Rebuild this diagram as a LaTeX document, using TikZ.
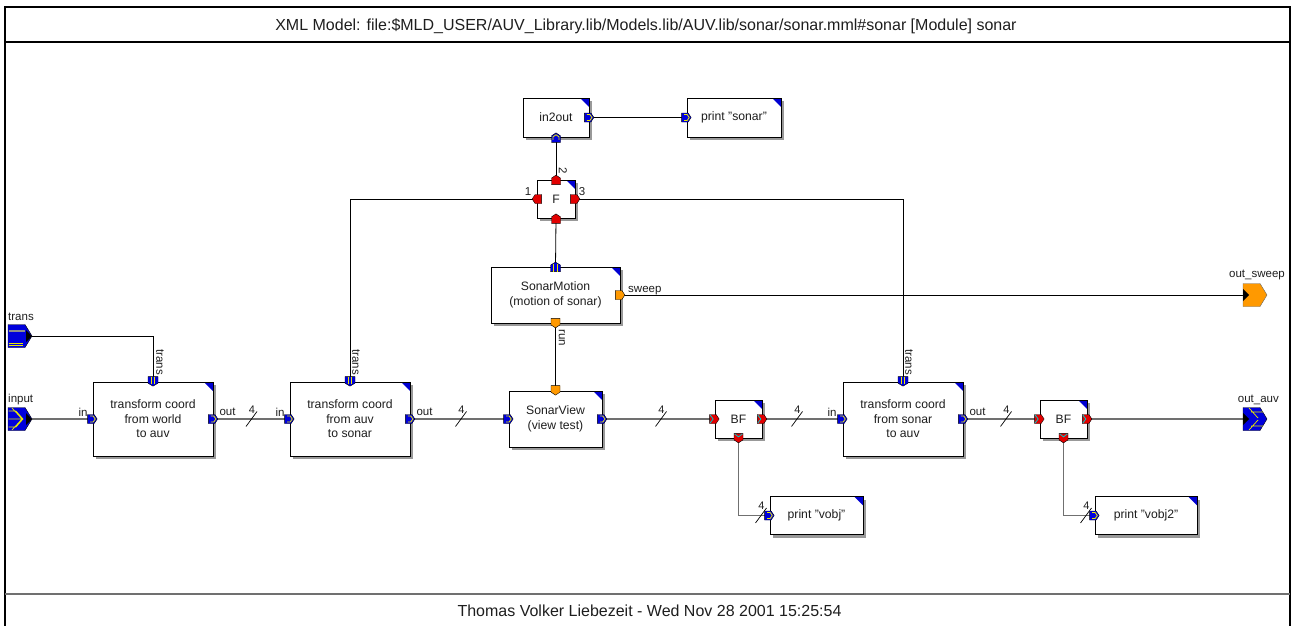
\documentclass[tikz,border=0pt]{standalone}
\usepackage{fontspec}
\setmainfont{Liberation Sans}
\usetikzlibrary{shadows}
\definecolor{portblue}{RGB}{0,0,220}
\definecolor{cornerblue}{RGB}{0,0,210}
\definecolor{portred}{RGB}{225,0,0}
\definecolor{portorange}{RGB}{255,153,0}
\definecolor{portyellow}{RGB}{235,235,0}
\definecolor{portcyan}{RGB}{0,200,200}
\definecolor{linegray}{RGB}{112,112,112}
\definecolor{inkgray}{RGB}{30,30,30}

\tikzset{
  block/.style={draw=black, line width=0.7pt, fill=white, align=center, inner sep=0pt,
    text=inkgray, font=\fontsize{12.2}{14.5}\selectfont,
    drop shadow={shadow xshift=3pt, shadow yshift=-3pt, fill=black!40, opacity=1},
    path picture={\fill[cornerblue] ([xshift=-9pt]path picture bounding box.north east)
      -- (path picture bounding box.north east) -- ([yshift=-9pt]path picture bounding box.north east) -- cycle;}},
  sig/.style={draw=black, line width=0.8pt},
  vec/.style={draw=linegray, line width=1.6pt},
  lbl/.style={inner sep=0pt, text=inkgray, font=\fontsize{11.5}{12}\selectfont},
  portedge/.style={draw=black, line width=0.4pt},
  % small port shapes, drawn pointing to +x
  pics/bport/.style={code={
    \filldraw[portedge, fill=portblue] (-5,-4.5) -- (1.5,-4.5) -- (4.5,0) -- (1.5,4.5) -- (-5,4.5) -- cycle;
    \draw[portyellow, line width=0.8pt] (-2.5,-3) -- (0.5,-3) -- (2.6,0) -- (0.5,3) -- (-2.5,3);}},
  pics/bstripe/.style={code={
    \filldraw[portedge, fill=portblue] (-5,-5) -- (1.5,-5) -- (4.5,0) -- (1.5,5) -- (-5,5) -- cycle;
    \draw[portyellow, line width=0.7pt] (-5,-1.7) -- (2.5,-1.7) (-5,1.7) -- (2.5,1.7);}},
  pics/rport/.style={code={
    \filldraw[portedge, fill=portred] (-5,-4.5) -- (1.5,-4.5) -- (4.5,0) -- (1.5,4.5) -- (-5,4.5) -- cycle;}},
  pics/rportc/.style={code={
    \filldraw[portedge, fill=portred] (-5,-4.5) -- (1.5,-4.5) -- (4.5,0) -- (1.5,4.5) -- (-5,4.5) -- cycle;
    \draw[portcyan, line width=0.8pt] (-4.5,-4) -- (-1.5,0) -- (-4.5,4);}},
  pics/oport/.style={code={
    \filldraw[portedge, fill=portorange] (-5,-4.5) -- (1.5,-4.5) -- (4.5,0) -- (1.5,4.5) -- (-5,4.5) -- cycle;}},
  % large module ports, origin at the left middle
  pics/exttrans/.style={code={
    \filldraw[portedge, fill=portblue] (0,-11.5) -- (17,-11.5) -- (24,0) -- (17,11.5) -- (0,11.5) -- cycle;
    \fill[black] (18,-6) -- (24,0) -- (18,6) -- cycle;
    \draw[black!45, line width=1.4pt] (0.5,-5) -- (17,-5);
    \draw[portyellow, line width=0.7pt] (0.5,7) -- (15,7) (0.5,9.5) -- (15,9.5);}},
  pics/extin/.style={code={
    \filldraw[portedge, fill=portblue] (0,-11.5) -- (17,-11.5) -- (24,0) -- (17,11.5) -- (0,11.5) -- cycle;
    \fill[black] (18,-6) -- (24,0) -- (18,6) -- cycle;
    \draw[portyellow, line width=0.7pt] (0.5,-8) -- (8,-8) -- (15,0) -- (8,8) -- (0.5,8)
      (0.5,0) -- (15,0) (4,-11) -- (14,0) -- (4,11);}},
  pics/extout/.style={code={
    \filldraw[portedge, fill=portblue] (0,-11.5) -- (17,-11.5) -- (24,0) -- (17,11.5) -- (0,11.5) -- cycle;
    \fill[black] (0,-6) -- (6,0) -- (0,6) -- cycle;
    \draw[portyellow, line width=0.7pt] (6,-11) -- (15,-1) (6,11) -- (15,1)
      (8,-7) -- (20,-7) (8,7) -- (20,7);}},
  pics/extsweep/.style={code={
    \filldraw[draw=black!60, line width=0.4pt, fill=portorange] (0,-11.5) -- (17,-11.5) -- (24,0) -- (17,11.5) -- (0,11.5) -- cycle;
    \fill[black] (0,-6) -- (6,0) -- (0,6) -- cycle;}},
  % bus width mark
  pics/bus/.style={code={
    \draw[black, line width=0.7pt] (-5.5,7.5) -- (5.5,-7.5);
    \node[lbl, font=\fontsize{11}{11}\selectfont] at (0.5,-9.5) {4};}}
}

\begin{document}
\begin{tikzpicture}[x=1pt, y=-1pt]
\useasboundingbox (0,0) rectangle (1293,626);

% sheet frame with title and footer
\draw[black, line width=1.3pt] (5,627) -- (5,7) -- (1290,7) -- (1290,627);
\draw[black, line width=1.2pt] (5,42) -- (1290,42);
\draw[linegray, line width=2pt] (5,594) -- (1290,594);
\node[inner sep=0pt, text=inkgray, font=\fontsize{16}{18}\selectfont] (title) at (646,26)
  {XML Model: file:\$MLD\_USER/AUV\_Library.lib/Models.lib/AUV.lib/sonar/sonar.mml\#sonar [Module] sonar};
\node[inner sep=0pt, text=inkgray, font=\fontsize{16}{18}\selectfont] (footer) at (649.5,611)
  {Thomas Volker Liebezeit - Wed Nov 28 2001 15:25:54};

% modules
\node[block, minimum width=120, minimum height=74] (A) at (153,419) {transform coord\\from world\\to auv};
\node[block, minimum width=120, minimum height=74] (B) at (350,419) {transform coord\\from auv\\to sonar};
\node[block, minimum width=93, minimum height=56] (C) at (555.5,419) {SonarView\\(view test)};
\node[block, minimum width=129, minimum height=56] (D) at (555.5,295) {SonarMotion\\(motion of sonar)};
\node[block, minimum width=38, minimum height=38] (F) at (556,199) {F};
\node[block, minimum width=66, minimum height=39] (I) at (556,117.5) {in2out};
\node[block, minimum width=94, minimum height=39] (PS) at (734,117.5) {print "sonar"};
\node[block, minimum width=47, minimum height=38] (BF1) at (738.5,419) {BF};
\node[block, minimum width=120, minimum height=74] (E) at (903,419) {transform coord\\from sonar\\to auv};
\node[block, minimum width=47, minimum height=38] (BF2) at (1063.5,419) {BF};
\node[block, minimum width=93, minimum height=38] (PV) at (816.5,515.5) {print "vobj"};
\node[block, minimum width=102, minimum height=38] (PV2) at (1146,515.5) {print "vobj2"};

% module ports (tips)
\coordinate (trans) at (32,336);
\coordinate (input) at (32,419);
\coordinate (outauv) at (1243,419);
\coordinate (outsweep) at (1243,295);

% connections
\draw[sig] (trans) -| (A.north);
\draw[vec] (input) -- (A.west);
\draw[vec] (A.east) -- (B.west);
\draw[vec] (B.east) -- (C.west);
\draw[vec] (C.east) -- (BF1.west);
\draw[vec] (BF1.east) -- (E.west);
\draw[vec] (E.east) -- (BF2.west);
\draw[vec] (BF2.east) -- (outauv);
\draw[vec] (BF1.south) |- (PV.west);
\draw[vec] (BF2.south) |- (PV2.west);
\draw[sig] (F.west) -| (B.north);
\draw[sig] (F.east) -| (E.north);
\draw[sig] (F.north) -- (I.south);
\draw[sig] (D.north) -- (F.south);
\draw[sig] (D.south) -- (C.north);
\draw[sig] (D.east) -- (outsweep);
\draw[sig] (I.east) -- (PS.west);

% bus width marks
\pic at (251.5,419) {bus};
\pic at (461,419) {bus};
\pic at (661,419) {bus};
\pic at (797,419) {bus};
\pic at (1006,419) {bus};
\pic at (761,515.5) {bus};
\pic at (1086,515.5) {bus};

% module ports
\pic at (8,336) {exttrans};
\pic at (8,419) {extin};
\pic at (1243,419) {extout};
\pic at (1243,295) {extsweep};

% block ports
\pic at (A.west) {bport};
\pic at (A.east) {bport};
\pic[rotate=-90] at (A.north) {bstripe};
\pic at (B.west) {bport};
\pic at (B.east) {bport};
\pic[rotate=-90] at (B.north) {bstripe};
\pic at (E.west) {bport};
\pic at (E.east) {bport};
\pic[rotate=-90] at (E.north) {bstripe};
\pic at (C.west) {bport};
\pic at (C.east) {bport};
\pic[rotate=-90] at (C.north) {oport};
\pic[rotate=90] at (D.north) {bstripe};
\pic[rotate=-90] at (D.south) {oport};
\pic at (D.east) {oport};
\pic[rotate=90] at (F.south) {rport};
\pic[rotate=90] at (F.north) {rport};
\pic[rotate=180] at (F.west) {rport};
\pic at (F.east) {rport};
\pic[rotate=90] at (I.south) {bport};
\pic at (I.east) {bport};
\pic at (PS.west) {bport};
\pic at (BF1.west) {rportc};
\pic at (BF1.east) {rportc};
\pic[rotate=-90] at (BF1.south) {rportc};
\pic at (BF2.west) {rportc};
\pic at (BF2.east) {rportc};
\pic[rotate=-90] at (BF2.south) {rportc};
\pic at (PV.west) {bport};
\pic at (PV2.west) {bport};

% port labels
\node[lbl, anchor=base west] at (8,320) {trans};
\node[lbl, anchor=base west] at (8,402) {input};
\node[lbl, anchor=base east] at (1279,402) {out\_auv};
\node[lbl, anchor=base east] at (1285,277) {out\_sweep};
\node[lbl] at (83,412) {in};
\node[lbl] at (280,412) {in};
\node[lbl] at (832,412) {in};
\node[lbl] at (227.5,412) {out};
\node[lbl] at (424.5,412) {out};
\node[lbl] at (977.5,412) {out};
\node[lbl, anchor=base west] at (628,292) {sweep};
\node[lbl, rotate=-90] at (160,362) {trans};
\node[lbl, rotate=-90] at (356,362) {trans};
\node[lbl, rotate=-90] at (909,362) {trans};
\node[lbl, rotate=-90] at (562,338) {run};
\node[lbl, rotate=-90] at (563,171) {2};
\node[lbl] at (528,192) {1};
\node[lbl] at (582,192) {3};
\end{tikzpicture}
\end{document}
